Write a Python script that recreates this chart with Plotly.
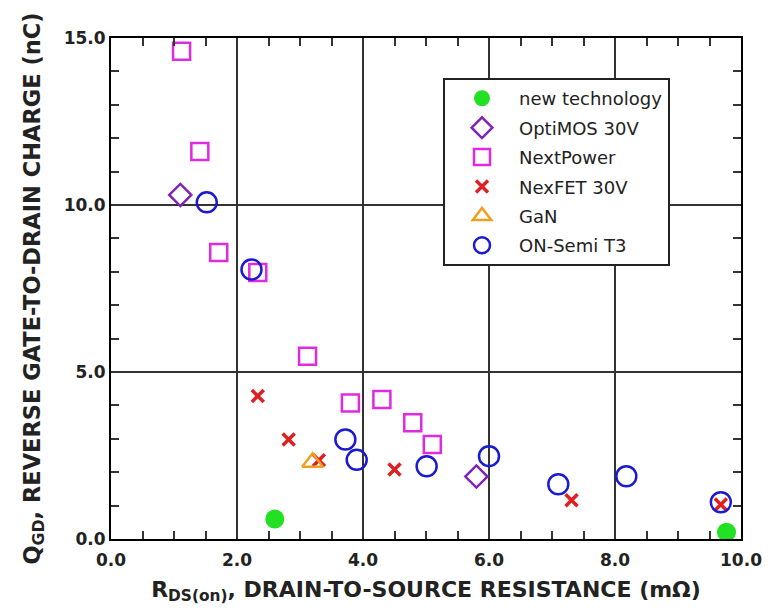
import plotly.graph_objects as go

# ---- data ----
new_x = [2.6, 9.77]
new_y = [0.6, 0.2]
opti_x = [1.1, 5.8]
opti_y = [10.3, 1.87]
next_x = [1.12, 1.41, 1.71, 2.33, 3.12, 3.8, 4.3, 4.79, 5.1]
next_y = [14.6, 11.6, 8.58, 7.98, 5.47, 4.07, 4.18, 3.48, 2.83]
nexfet_x = [2.33, 2.82, 3.3, 4.5, 7.31, 9.68]
nexfet_y = [4.28, 2.98, 2.36, 2.08, 1.16, 1.03]
gan_x = [3.2]
gan_y = [2.3]
on_x = [1.52, 2.23, 3.72, 3.9, 5.01, 6.0, 7.1, 8.18, 9.68]
on_y = [10.08, 8.07, 2.98, 2.37, 2.18, 2.48, 1.64, 1.88, 1.1]

x_ticks = [0, 2, 4, 6, 8, 10]
y_ticks = [0, 5, 10, 15]

FONT = "DejaVu Sans, Verdana, sans-serif"

fig = go.Figure()
series = [
    ("new technology", new_x, new_y, dict(symbol="circle", size=19, color="#22e022",
                                          line=dict(width=0))),
    ("OptiMOS 30V", opti_x, opti_y, dict(symbol="diamond-open", size=17, color="#7f22b5",
                                         line=dict(width=2.5, color="#7f22b5"))),
    ("NextPower", next_x, next_y, dict(symbol="square-open", size=17, color="#e02ae0",
                                       line=dict(width=2.5, color="#e02ae0"))),
    ("NexFET 30V", nexfet_x, nexfet_y, dict(symbol="x-thin-open", size=12, color="#e02020",
                                            line=dict(width=3.5, color="#e02020"))),
    ("GaN", gan_x, gan_y, dict(symbol="triangle-up-open", size=18, color="#f0a020",
                               line=dict(width=2.5, color="#f0a020"))),
    ("ON-Semi T3", on_x, on_y, dict(symbol="circle-open", size=20, color="#1a1ad0",
                                    line=dict(width=2.5, color="#1a1ad0"))),
]
for i, (name, xs, ys, mk) in enumerate(series):
    fig.add_trace(go.Scatter(x=xs, y=ys, mode="markers", name=name, marker=mk,
                             legendgroup=f"g{i}"))

axis_common = dict(
    showline=True, linecolor="black", linewidth=2, mirror="ticks",
    ticks="inside", ticklen=8, tickwidth=1.5, tickcolor="#333",
    showgrid=True, gridcolor="#333", gridwidth=1.8, zeroline=False,
    tickformat=".1f",
    tickfont=dict(family=FONT, size=17, color="#222", weight="bold"),
)

fig.update_xaxes(
    range=[0, 10], tickvals=x_ticks, ticklabelstandoff=5,
    minor=dict(dtick=0.5, ticks="inside", ticklen=8, tickcolor="#333", showgrid=False),
    title=dict(text="R<sub>DS(on)</sub>, DRAIN-TO-SOURCE RESISTANCE (m\u03a9)",
               font=dict(family=FONT, size=22, color="#222", weight="bold"), standoff=12),
    **axis_common,
)
fig.update_yaxes(
    range=[0, 15], tickvals=y_ticks,
    minor=dict(dtick=1, ticks="inside", ticklen=8, tickcolor="#333", showgrid=False),
    title=dict(text="Q<sub>GD</sub>, REVERSE GATE-TO-DRAIN CHARGE (nC)",
               font=dict(family=FONT, size=22.5, color="#222", weight="bold"), standoff=17),
    **axis_common,
)

fig.update_layout(
    width=774, height=612,
    margin=dict(l=111, r=31, t=38, b=73),
    plot_bgcolor="white", paper_bgcolor="white",
    legend=dict(x=0.527, y=0.92, xanchor="left", yanchor="top",
                bgcolor="white", bordercolor="#222", borderwidth=2,
                font=dict(family=FONT, size=18, color="#222"),
                traceorder="grouped", tracegroupgap=3, itemwidth=64),
)

fig.write_html("out.html")
